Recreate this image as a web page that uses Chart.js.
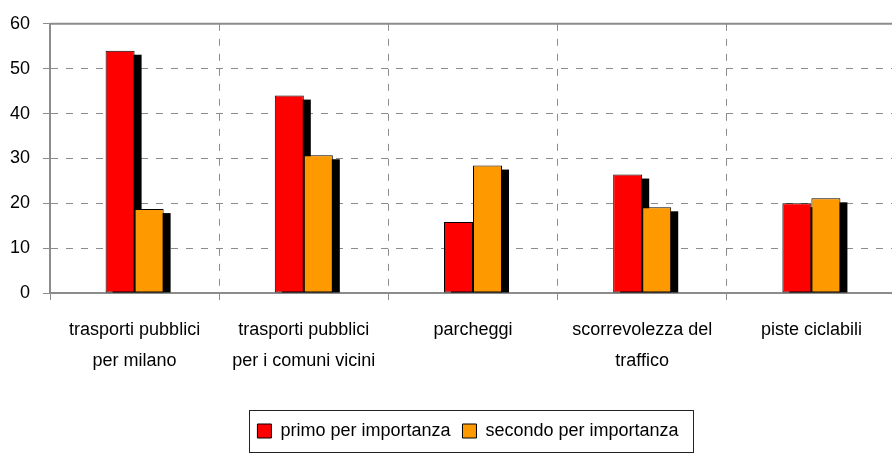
<!DOCTYPE html>
<html><head><meta charset="utf-8">
<script src="https://cdn.jsdelivr.net/npm/chart.js@4.4.0/dist/chart.umd.min.js"></script>
<style>html,body{margin:0;padding:0;background:#fff;overflow:hidden;width:892px;height:454px}canvas{display:block}</style>
</head><body>
<canvas id="c" width="896" height="454"></canvas>
<script>
const categories = [["trasporti pubblici","per milano"],["trasporti pubblici","per i comuni vicini"],["parcheggi"],["scorrevolezza del","traffico"],["piste ciclabili"]];
const seriesNames = ["primo per importanza","secondo per importanza"];
const primo = [54.0, 44.0, 15.8, 26.4, 20.0];
const secondo = [18.7, 30.7, 28.4, 19.1, 21.1];
const yTicks = [0, 10, 20, 30, 40, 50, 60];

const FONT = "'Liberation Sans', Arial, sans-serif";
const GRID = '#8c8c8c';

const shadowPlugin = {
  id: 'shadowAndFrame',
  afterLayout(chart) {
    const lg = chart.legend;
    if (lg) { lg.left += 40; }
  },
  beforeDatasetsDraw(chart) {
    const ctx = chart.ctx, a = chart.chartArea;
    ctx.save();
    ctx.fillStyle = '#000';
    chart.data.datasets.forEach((ds, i) => {
      chart.getDatasetMeta(i).data.forEach(bar => {
        const p = bar.getProps(['x','y','base','width'], true);
        const l = p.x - p.width/2 + 7, t = p.y + 4;
        ctx.fillRect(l, t, p.width, p.base - t);
      });
    });
    ctx.strokeStyle = GRID; ctx.lineWidth = 2;
    ctx.beginPath(); ctx.moveTo(a.left, a.top); ctx.lineTo(a.right, a.top); ctx.stroke();
    ctx.restore();
  },
  afterDraw(chart) {
    const hb = chart.legend && chart.legend.legendHitBoxes;
    if (!hb || !hb.length) return;
    const ctx = chart.ctx;
    const first = hb[0], last = hb[hb.length-1];
    const cy = first.top + first.height/2;
    const l = Math.round(first.left - 8) + 0.5;
    const r = Math.round(last.left + last.width + 14) + 0.5;
    const t = Math.round(cy - 21) + 0.5, b = Math.round(cy + 21) + 0.5;
    ctx.save();
    ctx.strokeStyle = '#222'; ctx.lineWidth = 1;
    ctx.strokeRect(l, t, r - l, b - t);
    ctx.restore();
  }
};

new Chart(document.getElementById('c'), {
  type: 'bar',
  data: {
    labels: categories,
    datasets: [
      { label: seriesNames[0], data: primo, backgroundColor: '#ff0000', borderColor: '#000', borderWidth: 1, borderSkipped: false },
      { label: seriesNames[1], data: secondo, backgroundColor: '#ff9900', borderColor: '#000', borderWidth: 1, borderSkipped: false }
    ]
  },
  options: {
    responsive: false,
    animation: false,
    devicePixelRatio: 1,
    layout: { padding: { left: 0, right: 0, top: 23, bottom: 4 } },
    datasets: { bar: { categoryPercentage: 0.343, barPercentage: 1.0 } },
    plugins: {
      tooltip: { enabled: false },
      legend: {
        position: 'bottom',
        labels: { font: { family: FONT, size: 18 }, color: '#000', boxWidth: 14, boxHeight: 14, padding: 12 }
      }
    },
    scales: {
      x: {
        grid: { color: GRID, lineWidth: 1, offset: true, tickLength: 7, tickColor: GRID, tickWidth: 1 },
        border: { color: GRID, width: 2, dash: [7, 8] },
        ticks: { font: { family: FONT, size: 18, lineHeight: 1.72 }, color: '#000', padding: 15, maxRotation: 0, autoSkip: false },
        afterFit(s) { s.height = 117; }
      },
      y: {
        min: yTicks[0], max: yTicks[yTicks.length-1],
        afterBuildTicks(s) { s.ticks = yTicks.map(v => ({ value: v })); },
        grid: { color: GRID, lineWidth: 1, tickLength: 7, tickColor: GRID, tickWidth: 1 },
        border: { color: GRID, width: 2, dash: [7, 8] },
        ticks: { font: { family: FONT, size: 18 }, color: '#000', padding: 13 },
        afterFit(s) { s.width = 50; }
      }
    }
  },
  plugins: [shadowPlugin]
});
</script>
</body></html>
